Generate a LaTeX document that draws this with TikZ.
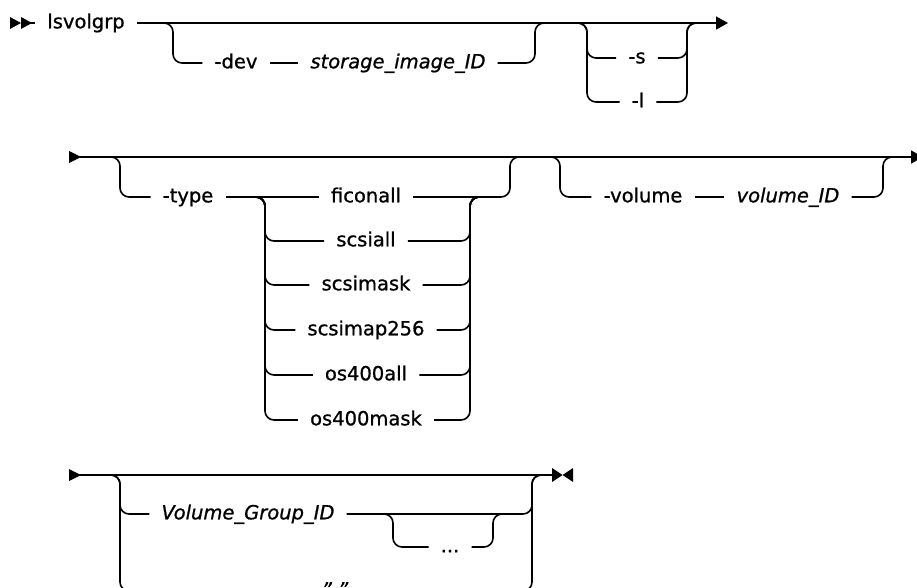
\documentclass[tikz,border=0pt]{standalone}
\usepackage{fontspec}
\setmainfont{DejaVu Sans}[FakeBold=0.9]
\usetikzlibrary{arrows.meta}
\tikzset{
  kw/.style={inner xsep=12pt, inner ysep=2pt, anchor=mid},
  var/.style={kw, font=\itshape},
  ln/.style={line width=1.6pt},
  rc/.style={ln, rounded corners=9pt},
  arr/.style={ln, -{Triangle[length=12pt,width=13pt]}}
}
\begin{document}
\fontsize{19.5}{23}\selectfont
\begin{tikzpicture}[x=1pt,y=-1pt]
\useasboundingbox (0,0) rectangle (917,588);
% ---------------- Row 1 ----------------
\fill (10,17) -- (21,23) -- (10,29) -- cycle;
\fill (21,17) -- (32,23) -- (21,29) -- cycle;
\coordinate (r1s) at (30,23);
\coordinate (r1e) at (728,23);
\node[kw] (lsv) at (86,23) {lsvolgrp};
\node[kw] (dev) at (236,63) {-dev};
\node[var] (sid) at (398,63) {storage\_image\_ID};
\node[kw] (s) at (637,58) {-s};
\node[kw] (l) at (638,102) {-l};
\draw[ln] (r1s) -- (lsv.mid west);
\draw[arr] (lsv.mid east) -- (r1e);
\coordinate (a1) at (163,23);
\coordinate (a2) at (173,63);
\draw[rc] (a1) -| (a2) -- (dev.mid west);
\draw[ln] (dev.mid east) -- (sid.mid west);
\coordinate (b1) at (535,23);
\coordinate (b2) at (545,23);
\draw[rc] (sid.mid east) -| (b1) -- (b2);
\coordinate (c1) at (577,23);
\coordinate (c2) at (587,102);
\coordinate (c3) at (587,58);
\draw[rc] (c1) -| (c2) -- (l.mid west);
\draw[rc] (c1) -| (c3) -- (s.mid west);
\coordinate (d1) at (687,23);
\coordinate (d2) at (697,23);
\draw[rc] (s.mid east) -| (d1) -- (d2);
\draw[rc] (l.mid east) -| (d1) -- (d2);
% ---------------- Row 2 ----------------
\fill (69,151) -- (81,157) -- (69,163) -- cycle;
\coordinate (r2s) at (78,157);
\coordinate (r2e) at (923,157);
\draw[arr] (r2s) -- (r2e);
\node[kw] (type) at (188,197) {-type};
\node[kw] (t1) at (366,197) {ficonall};
\node[kw] (t2) at (366,241) {scsiall};
\node[kw] (t3) at (366,285) {scsimask};
\node[kw] (t4) at (366,330) {scsimap256};
\node[kw] (t5) at (366,375) {os400all};
\node[kw] (t6) at (366,420) {os400mask};
\node[kw] (vol) at (643,197) {-volume};
\node[var] (volid) at (788,197) {volume\_ID};
\coordinate (e1) at (108,157);
\coordinate (e2) at (120,197);
\draw[rc] (e1) -| (e2) -- (type.mid west);
\draw[ln] (type.mid east) -- (t1.mid west);
\coordinate (f0) at (255,197);
\coordinate (f2) at (265,241);
\coordinate (f3) at (265,285);
\coordinate (f4) at (265,330);
\coordinate (f5) at (265,375);
\coordinate (f6) at (265,420);
\draw[rc] (f0) -| (f2) -- (t2.mid west);
\draw[rc] (f0) -| (f3) -- (t3.mid west);
\draw[rc] (f0) -| (f4) -- (t4.mid west);
\draw[rc] (f0) -| (f5) -- (t5.mid west);
\draw[rc] (f0) -| (f6) -- (t6.mid west);
\coordinate (g0) at (470,197);
\coordinate (g1) at (480,197);
\draw[rc] (t2.mid east) -| (g0) -- (g1);
\draw[rc] (t3.mid east) -| (g0) -- (g1);
\draw[rc] (t4.mid east) -| (g0) -- (g1);
\draw[rc] (t5.mid east) -| (g0) -- (g1);
\draw[rc] (t6.mid east) -| (g0) -- (g1);
\coordinate (h1) at (510,157);
\coordinate (h2) at (520,157);
\draw[rc] (t1.mid east) -| (h1) -- (h2);
\coordinate (i1) at (550,157);
\coordinate (i2) at (560,197);
\draw[rc] (i1) -| (i2) -- (vol.mid west);
\draw[ln] (vol.mid east) -- (volid.mid west);
\coordinate (k1) at (883,157);
\coordinate (k2) at (893,157);
\draw[rc] (volid.mid east) -| (k1) -- (k2);
% ---------------- Row 3 ----------------
\fill (69,469) -- (81,475) -- (69,481) -- cycle;
\coordinate (r3s) at (78,475);
\coordinate (r3e) at (556,475);
\draw[ln] (r3s) -- (r3e);
\fill (552,468) -- (562.5,475) -- (552,482) -- cycle;
\fill (573,468) -- (562.5,475) -- (573,482) -- cycle;
\node[var] (vg) at (248,514) {Volume\_Group\_ID};
\node[kw] (dots) at (450,547) {...};
\node[var] (q) at (335,591) {" "};
\coordinate (m1) at (108,475);
\coordinate (m2) at (120,514);
\coordinate (m3) at (120,591);
\draw[rc] (m1) -| (m2) -- (vg.mid west);
\draw[rc] (m1) -| (m3) -- (q.mid west);
\coordinate (n1) at (532,475);
\coordinate (n2) at (542,475);
\draw[rc] (vg.mid east) -| (n1) -- (n2);
\draw[rc] (q.mid east) -| (n1) -- (n2);
\coordinate (o1) at (383,514);
\coordinate (o2) at (393,547);
\draw[rc] (o1) -| (o2) -- (dots.mid west);
\coordinate (o3) at (493,514);
\coordinate (o4) at (503,514);
\draw[rc] (dots.mid east) -| (o3) -- (o4);
\end{tikzpicture}
\end{document}
